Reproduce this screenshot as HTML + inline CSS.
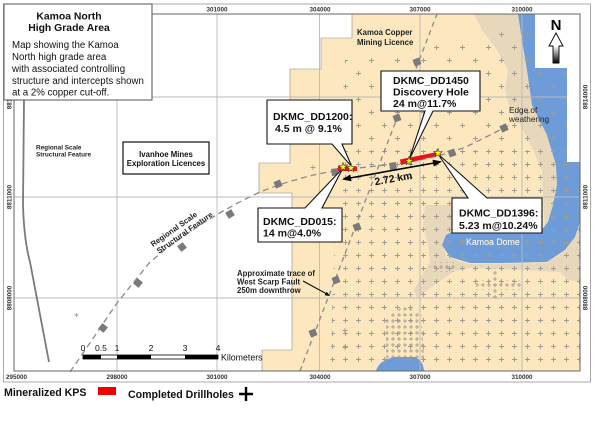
<!DOCTYPE html>
<html>
<head>
<meta charset="utf-8">
<style>
html,body{margin:0;padding:0;background:#fff;}
body{width:600px;height:424px;overflow:hidden;}
svg{display:block;}
text{font-family:"Liberation Sans",Arial,sans-serif;}
.b{font-weight:bold;}
</style>
</head>
<body>
<svg width="600" height="424" viewBox="0 0 600 424" xmlns="http://www.w3.org/2000/svg">
<defs>
  <pattern id="dh" width="13" height="13" patternUnits="userSpaceOnUse" x="1" y="2">
    <path d="M6.5,4 V9 M4,6.5 H9" stroke="#a09a90" stroke-width="0.9" fill="none"/>
  </pattern>
  <pattern id="dhs" width="26" height="26" patternUnits="userSpaceOnUse" x="1" y="2">
    <path d="M6.5,4 V9 M4,6.5 H9 M19.5,17 V22 M17,19.5 H22" stroke="#a09a90" stroke-width="0.9" fill="none"/>
  </pattern>
  <pattern id="dh2" width="6" height="6" patternUnits="userSpaceOnUse" x="0" y="0">
    <path d="M3,1 V5 M1,3 H5" stroke="#9a948a" stroke-width="0.8" fill="none"/>
  </pattern>
  <clipPath id="drillclip">
    <path d="M336,150 L580,150 L580,370 L330,370 L334,260 Z"/>
  </clipPath>
  <clipPath id="drillclip2">
    <path d="M340,150 L345,60 L470,40 L520,24 L580,24 L580,150 Z"/>
  </clipPath>
  <path id="star" d="M0,-4.5 L1.06,-1.46 L4.28,-1.39 L1.71,0.56 L2.65,3.64 L0,1.8 L-2.65,3.64 L-1.71,0.56 L-4.28,-1.39 L-1.06,-1.46 Z"/>
  <linearGradient id="shaft" x1="0" y1="0" x2="0" y2="1">
    <stop offset="0" stop-color="#fff"/>
    <stop offset="1" stop-color="#000"/>
  </linearGradient>
</defs>

<rect x="0" y="0" width="600" height="424" fill="#fff"/>

<!-- tan licence area -->
<path d="M352,14 L580,14 L580,371 L262,371 L262,350 L292,350 L292,193 L259,193 L259,163 L290,163 L290,69 L321,69 L321,38 L352,38 Z" fill="#fde7bf" stroke="#8a8a8a" stroke-width="0.6"/>

<!-- weathering zones -->
<path d="M474,14 L580,14 L580,240 L545,235 L543,195 L542,170 L533,150 L523,130 L510,110 L505,90 L508,70 L497,50 L482,30 Z" fill="#e7d8bb"/>
<path d="M425,205 L452,205 L452,233 L442,243 L447,257 L470,264 L547,263 L565,251 L575,237 L580,225 L580,282 L568,280 L560,272 L520,270 L470,268 L455,271 L440,281 L425,292 L417,299 L414,290 L422,275 L430,262 L428,245 L423,225 Z" fill="#e7d8bb"/>

<!-- blue water -->
<path d="M518,14 L535,14 L535,68 L567,68 L567,162 L580,162 L580,222 L575,237 L565,250 L547,262 L500,263 L470,263 L450,257 L442,245 L446,235 L452,232 L540,232 L548,222 L553,205 L557,185 L556,165 L547,135 L532,105 L527,70 L522,40 Z" fill="#6d9cd9"/>
<path d="M376,371 Q379,360 395,357 L415,357 Q423,360 424,371 Z" fill="#6d9cd9"/>

<!-- grid lines -->
<g stroke="#b9b9b9" stroke-width="0.9">
  <line x1="117" y1="14" x2="117" y2="371"/>
  <line x1="217" y1="14" x2="217" y2="371"/>
  <line x1="319.5" y1="14" x2="319.5" y2="371"/>
  <line x1="420" y1="14" x2="420" y2="371"/>
  <line x1="522" y1="14" x2="522" y2="371"/>
  <line x1="14" y1="97" x2="580" y2="97"/>
  <line x1="14" y1="197" x2="580" y2="197"/>
  <line x1="14" y1="298" x2="580" y2="298"/>
</g>

<!-- drillholes -->
<rect x="0" y="0" width="600" height="424" fill="url(#dh)" clip-path="url(#drillclip)"/>
<rect x="0" y="0" width="600" height="424" fill="url(#dhs)" clip-path="url(#drillclip2)"/>
<path d="M386,318 L405,305 L422,315 L424,362 L386,362 Z" fill="url(#dh2)"/>
<rect x="476" y="280" width="45" height="10" fill="url(#dh2)"/>
<rect x="492" y="268" width="7" height="30" fill="url(#dh2)"/>
<rect x="430" y="262" width="25" height="10" fill="url(#dh2)"/>
<g stroke="#a09a90" stroke-width="0.9">
  <path d="M76.5,313 V317 M74.5,315 H78.5"/>
  <path d="M345,328 V333 M342.5,330.5 H347.5"/>
  <path d="M345,345 V350 M342.5,347.5 H347.5"/>
  <path d="M313,165 V170 M310.5,167.5 H315.5"/>
  <path d="M305,215 V220 M302.5,217.5 H307.5"/>
</g>

<!-- white N box & strip -->
<rect x="535" y="14" width="45" height="54" fill="#fff"/>
<rect x="567" y="68" width="13" height="94" fill="#fff"/>

<!-- left regional curve -->
<path d="M24,100 L23,205 Q24,240 30,262 L49,362" fill="none" stroke="#7a7a7a" stroke-width="1.8"/>

<!-- regional structural dashed line -->
<path d="M70,372 L92,340 L117,303 L150,262 Q200,220 260,192 Q300,176 340,170 L395,164 Q440,158 470,145 L508,126" fill="none" stroke="#8a8a8a" stroke-width="1.3" stroke-dasharray="6,4"/>
<!-- west scarp fault dashed -->
<path d="M300,371 L437,14" fill="none" stroke="#8a8a8a" stroke-width="1.3" stroke-dasharray="5,4"/>

<!-- grey squares -->
<g fill="#7a7a7a">
  <rect x="-3.5" y="-3.5" width="7" height="7" transform="translate(103,328) rotate(-52)"/>
  <rect x="-3.5" y="-3.5" width="7" height="7" transform="translate(138,283) rotate(-50)"/>
  <rect x="-3.5" y="-3.5" width="7" height="7" transform="translate(182,247) rotate(-38)"/>
  <rect x="-3.5" y="-3.5" width="7" height="7" transform="translate(230,214) rotate(-32)"/>
  <rect x="-3.5" y="-3.5" width="7" height="7" transform="translate(278,184) rotate(-22)"/>
  <rect x="-3.5" y="-3.5" width="7" height="7" transform="translate(335,172) rotate(-8)"/>
  <rect x="-3.5" y="-3.5" width="7" height="7" transform="translate(393,166) rotate(-8)"/>
  <rect x="-3.5" y="-3.5" width="7" height="7" transform="translate(452,153) rotate(-20)"/>
  <rect x="-3.5" y="-3.5" width="7" height="7" transform="translate(504,128) rotate(-25)"/>
  <rect x="-3.5" y="-3.5" width="7" height="7" transform="translate(313,333) rotate(-21)"/>
  <rect x="-3.5" y="-3.5" width="7" height="7" transform="translate(336,280) rotate(-21)"/>
  <rect x="-3.5" y="-3.5" width="7" height="7" transform="translate(357,227) rotate(-21)"/>
  <rect x="-3.5" y="-3.5" width="7" height="7" transform="translate(397,118) rotate(-21)"/>
  <rect x="-3.5" y="-3.5" width="7" height="7" transform="translate(417,62) rotate(-21)"/>
</g>

<!-- callouts (box + tail) -->
<g fill="#fff" stroke="#111" stroke-width="1.1" stroke-linejoin="miter">
  <path d="M267,100 H352 V144 H342 L352,167 L332,144 H267 Z"/>
  <path d="M258,208 H305 L343,168 L322,208 H342 V242 H258 Z"/>
  <path d="M381,71 H480 V111 H433 L409,160 L425,111 H381 Z"/>
  <path d="M452,198 H468 L438,154 L487,198 H542 V233 H452 Z"/>
</g>

<!-- mineralized bars -->
<path d="M338,166 L357,166.5 L357,171 L338,171 Z" fill="#e8141c"/>
<path d="M400,159.5 L440,151.5 L441,154.5 L401,165 Z" fill="#e8141c"/>

<!-- distance arrow -->
<line x1="350" y1="178" x2="434" y2="163" stroke="#000" stroke-width="1.6"/>
<path d="M342,179.5 L351.5,181.3 L350.3,174.5 Z" fill="#000"/>
<path d="M442,161.5 L433.7,166.5 L432.5,159.7 Z" fill="#000"/>
<text class="b" font-size="10.4" fill="#111" text-anchor="middle" transform="translate(394,182) rotate(-10)">2.72 km</text>

<!-- stars -->
<g fill="#ffff00" stroke="#333" stroke-width="0.6">
  <use href="#star" x="343" y="167"/>
  <use href="#star" x="351" y="168"/>
  <use href="#star" x="409" y="161"/>
  <use href="#star" x="438" y="153"/>
</g>

<!-- callout text -->
<g class="b" font-size="10.5" fill="#111" font-weight="bold">
  <text x="273" y="120">DKMC_DD1200:</text>
  <text x="275" y="132">4.5 m @ 9.1%</text>
  <text x="393" y="84">DKMC_DD1450</text>
  <text x="393" y="95.5">Discovery Hole</text>
  <text x="393" y="107">24 m@11.7%</text>
  <text x="263" y="225">DKMC_DD015:</text>
  <text x="263" y="236.5">14 m@4.0%</text>
  <text x="459" y="216.5">DKMC_DD1396:</text>
  <text x="459" y="229">5.23 m@10.24%</text>
</g>

<!-- map labels -->
<text class="b" font-size="7.8" fill="#222" x="357" y="35">Kamoa Copper</text>
<text class="b" font-size="7.8" fill="#222" x="357" y="45">Mining Licence</text>
<text font-size="8.2" fill="#222" x="509" y="113">Edge of</text>
<text font-size="8.2" fill="#222" x="509" y="122">weathering</text>
<text font-size="8.8" fill="#fff" x="466" y="245">Kamoa Dome</text>
<text class="b" font-size="7.8" fill="#222" x="237" y="276">Approximate trace of</text>
<text class="b" font-size="7.8" fill="#222" x="237" y="284.5">West Scarp Fault</text>
<text class="b" font-size="7.8" fill="#222" x="237" y="293">250m downthrow</text>
<line x1="303" y1="281" x2="326" y2="293.6" stroke="#000" stroke-width="1"/>
<path d="M330,296 L324.7,295.3 L326.6,291.8 Z" fill="#000"/>
<text class="b" font-size="6.4" fill="#222" x="36" y="149.5">Regional Scale</text>
<text class="b" font-size="6.4" fill="#222" x="36" y="156.5">Structural Feature</text>
<g transform="translate(153,247) rotate(-35)">
  <text class="b" font-size="7.7" fill="#222" x="0" y="0">Regional Scale</text>
  <text class="b" font-size="7.7" fill="#222" x="1" y="9">Structural Feature</text>
</g>

<!-- Ivanhoe box -->
<rect x="123" y="142" width="86" height="32" fill="#fff" stroke="#222" stroke-width="1.3"/>
<text class="b" font-size="7.8" fill="#111" text-anchor="middle" x="166" y="157">Ivanhoe Mines</text>
<text class="b" font-size="7.8" fill="#111" text-anchor="middle" x="166" y="166">Exploration Licences</text>

<!-- North arrow -->
<text class="b" font-size="15" fill="#000" text-anchor="middle" x="556" y="30">N</text>
<path d="M556,33 L563,46 L559,46 L559,63 L553,63 L553,46 L549,46 Z" fill="#fff" stroke="#000" stroke-width="0.9"/>
<rect x="553.5" y="46" width="5" height="17" fill="url(#shaft)"/>

<!-- frames -->
<rect x="3.5" y="4" width="587" height="378" fill="none" stroke="#a8a8a8" stroke-width="1"/>
<rect x="14" y="14" width="566" height="357" fill="none" stroke="#666" stroke-width="1"/>

<!-- coordinate labels -->
<g class="b" font-size="6.3" fill="#333" text-anchor="middle" font-weight="bold">
  <text x="217" y="11.5">301000</text>
  <text x="320" y="11.5">304000</text>
  <text x="420" y="11.5">307000</text>
  <text x="522" y="11.5">310000</text>
  <text x="16.5" y="379">295000</text>
  <text x="117" y="379">298000</text>
  <text x="217" y="379">301000</text>
  <text x="320" y="379">304000</text>
  <text x="420" y="379">307000</text>
  <text x="522" y="379">310000</text>
  <text transform="translate(11.5,97) rotate(-90)">8814000</text>
  <text transform="translate(11.5,197) rotate(-90)">8811000</text>
  <text transform="translate(11.5,298) rotate(-90)">8808000</text>
  <text transform="translate(587.5,97) rotate(-90)">8814000</text>
  <text transform="translate(587.5,197) rotate(-90)">8811000</text>
  <text transform="translate(587.5,298) rotate(-90)">8808000</text>
</g>

<!-- title box -->
<rect x="4" y="4" width="148" height="96" fill="#fff" stroke="#555" stroke-width="1"/>
<text class="b" font-size="10.4" fill="#111" text-anchor="middle" x="69" y="19.5">Kamoa North</text>
<text class="b" font-size="10.4" fill="#111" text-anchor="middle" x="69" y="31">High Grade Area</text>
<g font-size="9.7" fill="#111">
  <text x="12" y="48">Map showing the Kamoa</text>
  <text x="12" y="60">North high grade area</text>
  <text x="12" y="72">with associated controlling</text>
  <text x="12" y="84">structure and intercepts shown</text>
  <text x="12" y="95.5">at a 2% copper cut-off.</text>
</g>

<!-- scale bar -->
<g font-size="8.6" fill="#111" text-anchor="middle">
  <text x="83" y="351">0</text>
  <text x="101" y="351">0.5</text>
  <text x="117" y="351">1</text>
  <text x="151" y="351">2</text>
  <text x="185" y="351">3</text>
  <text x="218" y="351">4</text>
</g>
<rect x="83" y="355" width="135" height="4" fill="#fff" stroke="#000" stroke-width="0.8"/>
<rect x="83" y="355" width="18" height="4" fill="#000"/>
<rect x="117" y="355" width="34" height="4" fill="#000"/>
<rect x="185" y="355" width="33" height="4" fill="#000"/>
<text font-size="8.8" fill="#111" x="221" y="360.5">Kilometers</text>

<!-- legend -->
<text class="b" font-size="10.6" fill="#111" x="4" y="396">Mineralized KPS</text>
<rect x="98" y="387" width="18" height="8" fill="#ee0000"/>
<text class="b" font-size="10.6" fill="#111" x="128" y="398">Completed Drillholes</text>
<path d="M246,387 V401 M239,394 H253" stroke="#000" stroke-width="2.4"/>
</svg>
</body>
</html>
